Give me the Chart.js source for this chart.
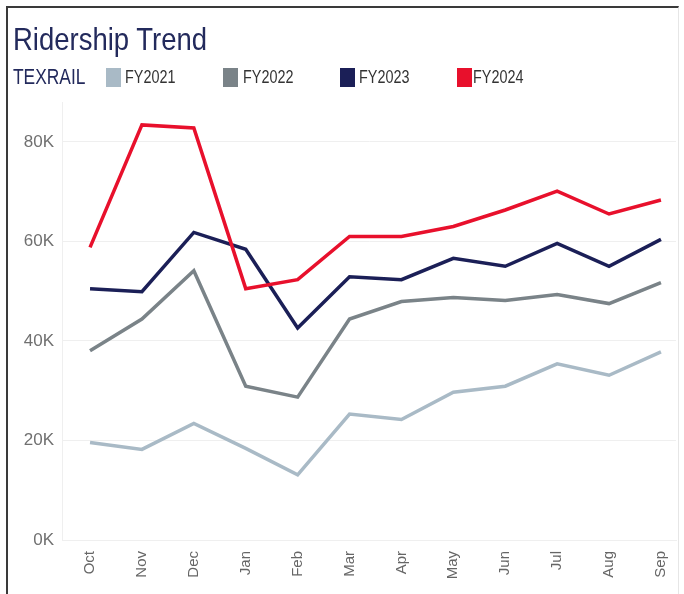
<!DOCTYPE html>
<html>
<head>
<meta charset="utf-8">
<script src="https://cdn.jsdelivr.net/npm/chart.js@4.4.1/dist/chart.umd.min.js"></script>
<style>
  html, body { margin: 0; padding: 0; background: #fff; }
  body { width: 684px; height: 594px; position: relative; overflow: hidden; font-family: "Liberation Sans", Arial, sans-serif; }
  #frame { position: absolute; left: 6px; top: 6px; width: 670px; height: 600px; border-left: 2px solid #3a3a3a; border-top: 2px solid #3a3a3a; border-right: 1px solid #e6e6e6; }
  #chart { position: absolute; left: 0; top: 0; }
  .title { position: absolute; left: 13px; top: 20px; font-size: 27.5px; line-height: 34px; color: #232a5c; white-space: nowrap; transform: scaleY(1.15); transform-origin: left top; }
  .lg { position: absolute; top: 66px; font-size: 18px; line-height: 22px; color: #333; white-space: nowrap; transform: scaleX(0.8); transform-origin: left center; }
  .brand { position: absolute; left: 13px; top: 64px; font-size: 22px; line-height: 26px; color: #232a5c; white-space: nowrap; transform: scaleX(0.79); transform-origin: left center; }
  .box { position: absolute; top: 68px; width: 15px; height: 19px; }
</style>
</head>
<body>
<div id="frame"></div>
<canvas id="chart" width="684" height="594"></canvas>
<div class="title">Ridership Trend</div>
<div class="brand">TEXRAIL</div>
<div id="legend"></div>
<script>
const months = ['Oct', 'Nov', 'Dec', 'Jan', 'Feb', 'Mar', 'Apr', 'May', 'Jun', 'Jul', 'Aug', 'Sep'];
const seriesNames = ['FY2021', 'FY2022', 'FY2023', 'FY2024'];
const fy2021 = [19600, 18200, 23400, 18400, 13100, 25300, 24200, 29700, 30900, 35400, 33100, 37800];
const fy2022 = [38000, 44400, 54100, 30900, 28700, 44400, 47900, 48700, 48100, 49300, 47500, 51700];
const fy2023 = [50500, 49900, 61800, 58400, 42600, 52900, 52300, 56600, 55000, 59600, 55000, 60400];
const fy2024 = [58800, 83400, 82800, 50500, 52300, 61000, 61000, 63000, 66300, 70100, 65500, 68300];
const yTicks = [0, 20000, 40000, 60000, 80000];

const colors = ['#a9bac6', '#7a8388', '#1b1f57', '#e8102c'];
const legendBoxX = [106, 223, 340, 457];
const legendTextX = [125, 243, 359, 473];

// legend row (html, laid out like the dashboard header)
const legend = document.getElementById('legend');
seriesNames.forEach((name, i) => {
    const b = document.createElement('div');
    b.className = 'box';
    b.style.left = legendBoxX[i] + 'px';
    b.style.background = colors[i];
    legend.appendChild(b);
    const t = document.createElement('div');
    t.className = 'lg';
    t.style.left = legendTextX[i] + 'px';
    t.innerText = name;
    legend.appendChild(t);
});

const allSeries = [fy2021, fy2022, fy2023, fy2024];
const datasets = allSeries.map((vals, i) => ({
    label: seriesNames[i],
    data: vals.map((v, m) => ({ x: m, y: v })),
    borderColor: colors[i],
    backgroundColor: colors[i],
    borderWidth: 3.5,
    pointRadius: 0,
    tension: 0,
    order: 4 - i
}));

const gridColor = '#efefef';

new Chart(document.getElementById('chart').getContext('2d'), {
    type: 'line',
    data: { datasets },
    options: {
        responsive: false,
        animation: false,
        devicePixelRatio: 1,
        layout: { padding: { top: 102, right: 8, left: 0, bottom: 0 } },
        plugins: { legend: { display: false }, tooltip: { enabled: false } },
        scales: {
            x: {
                type: 'linear',
                min: -0.54,
                max: 11.29,
                afterBuildTicks: s => { s.ticks = months.map((m, i) => ({ value: i })); },
                afterFit: s => { s.height = 54; },
                grid: { display: false },
                border: { color: gridColor },
                ticks: {
                    autoSkip: false,
                    minRotation: 90,
                    maxRotation: 90,
                    padding: 3,
                    color: '#666',
                    font: { family: 'Liberation Sans, Arial, sans-serif', size: 15 },
                    callback: v => months[v]
                }
            },
            y: {
                min: 0,
                max: 88000,
                afterBuildTicks: s => { s.ticks = yTicks.map(v => ({ value: v })); },
                afterFit: s => { s.width = 62; },
                grid: { color: gridColor, drawTicks: false },
                border: { color: gridColor },
                ticks: {
                    padding: 8,
                    color: '#707070',
                    font: { family: 'Liberation Sans, Arial, sans-serif', size: 17 },
                    callback: v => (v / 1000) + 'K'
                }
            }
        }
    }
});
</script>
</body>
</html>
